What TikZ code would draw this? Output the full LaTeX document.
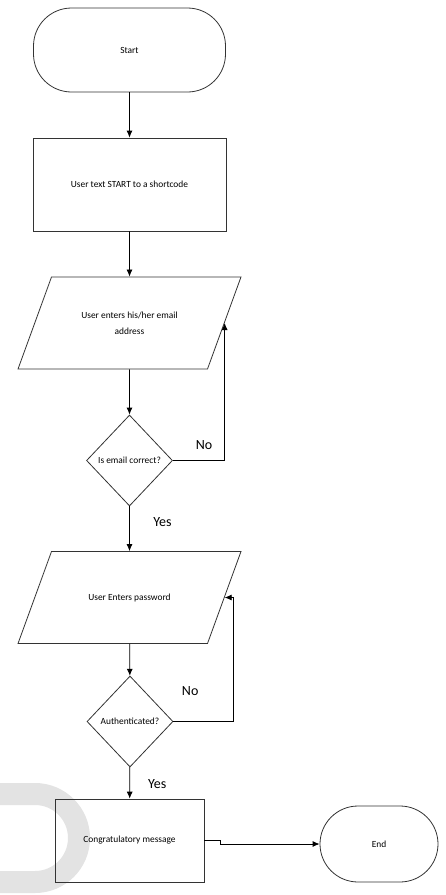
\documentclass[tikz,border=0pt]{standalone}
\usepackage{fontspec}
\setmainfont{Carlito}
\usepackage{tikz}
\usetikzlibrary{arrows}
\usetikzlibrary{arrows.meta}
\usetikzlibrary{shapes.geometric}
\newcommand{\iobox}[1]{\parbox[c][92pt][c]{156pt}{\centering #1}}

\begin{document}
\begin{tikzpicture}[x=1pt, y=-1pt, line width=0.8pt,
    >={Latex[length=7pt, width=6pt]},
    every node/.style={draw=black!80, inner sep=0pt, align=center,
      font=\fontsize{9.4}{16}\selectfont},
    term/.style={rectangle, rounded corners=38pt},
    io/.style={trapezium, trapezium left angle=70, trapezium right angle=110},
    dec/.style={diamond, minimum width=86pt, minimum height=91pt},
    lbl/.style={draw=none, font=\fontsize{14}{16}\selectfont}]
        \useasboundingbox (0, 0) rectangle (445, 895);

        % watermark
        \draw[line width=22pt, black!11] (0, 794) -- (35, 794) arc (-90:90:44) -- (0, 882);

        \node[term, minimum width=192pt, minimum height=84pt] (S) at (129.5, 50) {Start};
        \node[minimum width=193pt, minimum height=93pt] (T) at (129.5, 184.5) {User text START to a shortcode};
        \node[io] (M) at (129.5, 323) {\iobox{User enters his/her email\\address}};
        \node[dec] (C) at (129.5, 460.5) {Is email correct?};
        \node[io] (P) at (129.5, 597.5) {\iobox{User Enters password}};
        \node[dec] (A) at (130, 721.5) {Authenticated?};
        \node[minimum width=149pt, minimum height=83pt] (G) at (129.5, 840.5) {Congratulatory message};
        \node[term, minimum width=118pt, minimum height=76pt] (E) at (379, 844) {End};

        \draw[->] (S) -- (T);
        \draw[->] (T) -- (M);
        \draw[->] (M) -- (C);
        \draw[->] (C.east) -| node[lbl, pos=0.3, yshift=15] {No} (M.east);
        \draw[->] (C) -- node[lbl, pos=0.35, xshift=33] {Yes} (P);
        \draw[->] (P) -- (A);
        \draw[->] (A.east) -- node[lbl, pos=0.28, yshift=30] {No} ++(60, 0) |- (P.east);
        \draw[->] (A) -- node[lbl, pos=0.53, xshift=27.5] {Yes} (G);
        \draw[->] (G.east) -- ++(16, 0) |- (E.west);
      \end{tikzpicture}
\end{document}
